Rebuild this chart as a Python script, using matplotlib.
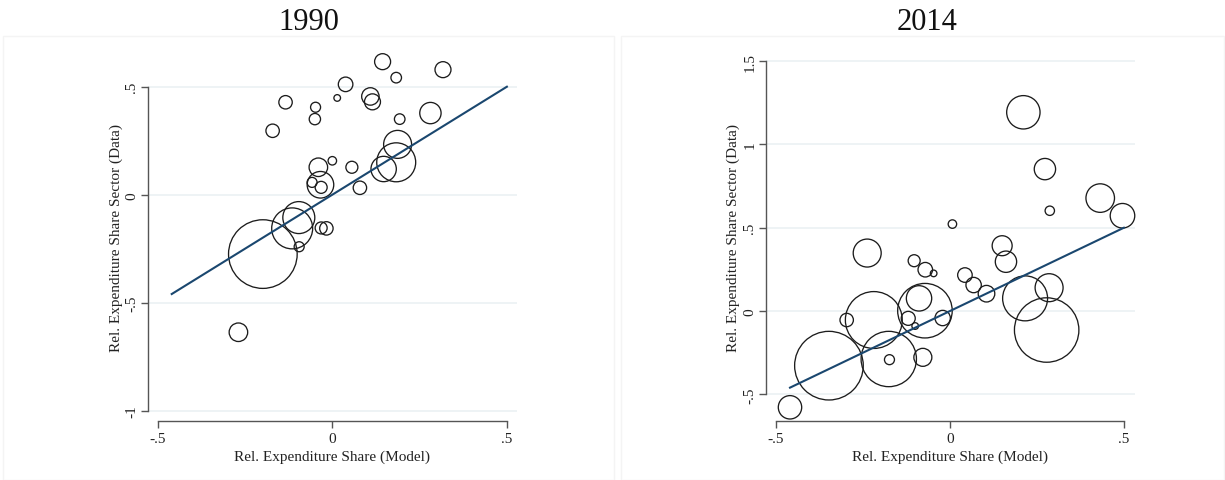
import matplotlib
matplotlib.use("Agg")
import matplotlib.pyplot as plt
from matplotlib.patches import Rectangle

# relative expenditure shares: model (x), data (y), sector weight (w)
x_1990 = [0.144, 0.317, 0.183, 0.038, 0.014, 0.109, 0.115, -0.134, -0.048, -0.050,
          0.193, 0.281, -0.171, 0.187, 0.183, 0.147, 0.000, 0.056, -0.040, 0.079,
          -0.034, -0.032, -0.058, -0.096, -0.115, -0.032, -0.017, -0.095, -0.199, -0.269]
y_1990 = [0.616, 0.579, 0.542, 0.511, 0.448, 0.455, 0.430, 0.428, 0.405, 0.350,
          0.350, 0.378, 0.296, 0.233, 0.150, 0.119, 0.157, 0.127, 0.127, 0.032,
          0.046, 0.034, 0.057, -0.106, -0.156, -0.154, -0.156, -0.241, -0.275, -0.637]
w_1990 = [0.64, 0.64, 0.28, 0.53, 0.11, 0.76, 0.64, 0.45, 0.25, 0.32,
          0.28, 1.14, 0.45, 1.96, 3.80, 1.61, 0.18, 0.36, 0.86, 0.45,
          1.77, 0.36, 0.25, 2.56, 4.20, 0.36, 0.45, 0.25, 11.8, 0.86]

x_2014 = [0.211, 0.273, 0.287, 0.432, 0.496, 0.007, -0.238, 0.150, 0.161, -0.103,
          -0.071, -0.047, 0.043, 0.068, 0.105, 0.216, 0.285, 0.278, -0.072, -0.089,
          -0.021, -0.120, -0.100, -0.219, -0.297, -0.176, -0.174, -0.078, -0.348, -0.460]
y_2014 = [1.193, 0.852, 0.602, 0.678, 0.572, 0.522, 0.348, 0.392, 0.296, 0.302,
          0.248, 0.226, 0.216, 0.156, 0.104, 0.076, 0.140, -0.114, 0.002, 0.076,
          -0.042, -0.044, -0.090, -0.054, -0.054, -0.288, -0.292, -0.278, -0.328, -0.578]
w_2014 = [2.79, 1.14, 0.22, 2.04, 1.51, 0.18, 1.96, 1.00, 1.14, 0.36,
          0.53, 0.11, 0.53, 0.59, 0.69, 5.06, 1.96, 10.4, 7.45, 1.61,
          0.59, 0.49, 0.11, 8.10, 0.45, 7.67, 0.25, 0.81, 11.8, 1.37]

# 45-degree line over the model range
line_x = [-0.46, 0.50]

xticks = [-0.5, 0, 0.5]
xtick_labels = ["-.5", "0", ".5"]
yticks_1990 = [-1, -0.5, 0, 0.5]
ytick_labels_1990 = ["-1", "-.5", "0", ".5"]
yticks_2014 = [-0.5, 0, 0.5, 1, 1.5]
ytick_labels_2014 = ["-.5", "0", ".5", "1", "1.5"]

W, H = 1225, 481
plt.rcParams["font.family"] = ["Liberation Serif", "DejaVu Serif"]
fig = plt.figure(figsize=(W / 100, H / 100), dpi=100)

def px(x0, y0, x1, y1):
    # pixel box (top-left origin) -> figure rect
    return [x0 / W, 1 - y1 / H, (x1 - x0) / W, (y1 - y0) / H]

# faint outlines of the two graph regions
for bx0, bx1 in [(3, 614), (621, 1224)]:
    fig.patches.append(Rectangle((bx0 / W, 0), (bx1 - bx0) / W, 1 - 37 / H,
                                 transform=fig.transFigure, fill=False,
                                 edgecolor="#f4f4f4", linewidth=1))

panels = [
    dict(title="1990", x=x_1990, y=y_1990, w=w_1990,
         rect=px(148, 40, 517, 422), xlim=(-0.528, 0.529), ylim=(-1.048, 0.721),
         yticks=yticks_1990, ylabels=ytick_labels_1990, ybounds=(-1, 0.5),
         tcx=309, ylx=116, xlx=332),
    dict(title="2014", x=x_2014, y=y_2014, w=w_2014,
         rect=px(766, 40, 1135, 422.3), xlim=(-0.529, 0.532), ylim=(-0.662, 1.633),
         yticks=yticks_2014, ylabels=ytick_labels_2014, ybounds=(-0.5, 1.5),
         tcx=927, ylx=733, xlx=950),
]

size_scale = 207.0
for p in panels:
    ax = fig.add_axes(p["rect"])
    ax.set_xlim(*p["xlim"])
    ax.set_ylim(*p["ylim"])
    ax.patch.set_alpha(0)

    for t in p["yticks"]:
        ax.axhline(t, color="#e9f0f2", linewidth=1.1, zorder=0)

    ax.scatter(p["x"], p["y"], s=[w * size_scale for w in p["w"]],
               facecolors="none", edgecolors="#1c1c1c", linewidths=0.95,
               clip_on=False, zorder=2)
    ax.plot(line_x, line_x, color="#1a476f", linewidth=1.5, zorder=3)

    for side in ["top", "right"]:
        ax.spines[side].set_visible(False)
    ax.spines["left"].set_bounds(*p["ybounds"])
    ax.spines["bottom"].set_bounds(xticks[0], xticks[-1])
    for side in ["left", "bottom"]:
        ax.spines[side].set_color("#555555")
        ax.spines[side].set_linewidth(1.0)

    ax.set_xticks(xticks)
    ax.set_xticklabels(xtick_labels, fontsize=11)
    ax.set_yticks(p["yticks"])
    ax.set_yticklabels(p["ylabels"], fontsize=11, rotation=90, va="center")
    ax.tick_params(axis="both", length=5, width=1.0, color="#555555",
                   labelcolor="#222222")
    ax.tick_params(axis="x", pad=3)
    ax.tick_params(axis="y", pad=2)

    fig.text(p["tcx"] / W, 1 - 22 / H, p["title"], fontsize=22,
             ha="center", va="center", color="#111111")
    fig.text(p["ylx"] / W, 1 - 238 / H, "Rel. Expenditure Share Sector (Data)",
             fontsize=11, rotation=90, ha="center", va="center", color="#222222")
    fig.text(p["xlx"] / W, 1 - 457 / H, "Rel. Expenditure Share (Model)",
             fontsize=11, ha="center", va="center", color="#222222")

fig.savefig("out.png", dpi=100)
